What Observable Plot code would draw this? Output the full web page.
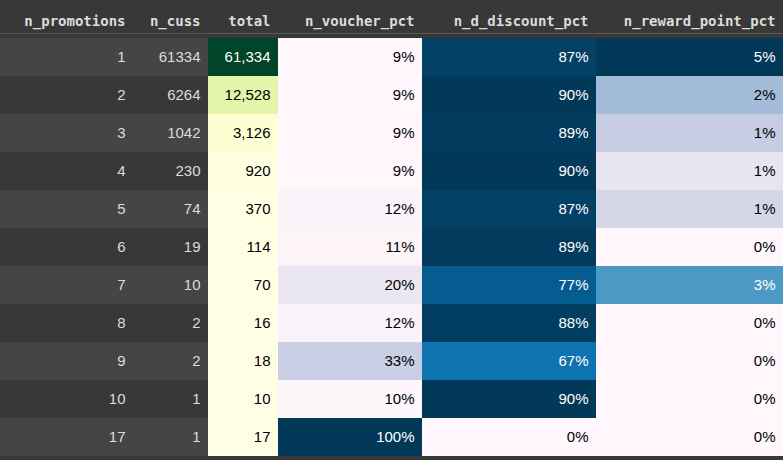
<!DOCTYPE html>
<html><head><meta charset="utf-8">
<script src="https://cdn.jsdelivr.net/npm/d3@7"></script>
<script src="https://cdn.jsdelivr.net/npm/@observablehq/plot@0.6"></script>
<style>
body{margin:0;background:#383838;overflow:hidden}
#chart{display:flex;width:783px}
</style></head><body><div id="chart"></div>
<script>
const nPromotions = [1, 2, 3, 4, 5, 6, 7, 8, 9, 10, 17];
const nCuss = [61334, 6264, 1042, 230, 74, 19, 10, 2, 2, 1, 1];
const total = [61334, 12528, 3126, 920, 370, 114, 70, 16, 18, 10, 17];
const voucherPct = [9, 9, 9, 9, 12, 11, 20, 12, 33, 10, 100];
const discountPct = [87, 90, 89, 90, 87, 89, 77, 88, 67, 90, 0];
const rewardPct = [5.0, 1.9, 1.4, 0.7, 1.1, 0, 2.9, 0, 0, 0, 0];

const columns = [
  {name: "n_promotions", values: nPromotions, w: 133, fmt: d => String(d)},
  {name: "n_cuss", values: nCuss, w: 75, fmt: d => String(d)},
  {name: "total", values: total, w: 70, fmt: d3.format(","), scheme: "YlGn"},
  {name: "n_voucher_pct", values: voucherPct, w: 144, fmt: d => Math.round(d) + "%", scheme: "PuBu"},
  {name: "n_d_discount_pct", values: discountPct, w: 174, fmt: d => Math.round(d) + "%", scheme: "PuBu"},
  {name: "n_reward_point_pct", values: rewardPct, w: 187, fmt: d => Math.round(d) + "%", scheme: "PuBu"}
];
const rows = d3.range(nPromotions.length);

for (const col of columns) {
  const [lo, hi] = d3.extent(col.values);
  const t = i => (col.values[i] - lo) / (hi - lo);
  const chart = Plot.plot({
    width: col.w,
    height: 460,
    margin: 0,
    marginTop: 33,
    x: {axis: null},
    y: {axis: null, domain: rows, padding: 0},
    color: col.scheme
      ? {type: "linear", scheme: col.scheme, domain: [lo, hi]}
      : {type: "identity"},
    style: {background: "#383838", fontFamily: "Liberation Sans, Arial, sans-serif", fontSize: "15px"},
    marks: [
      Plot.cell(rows, {
        y: i => i,
        fill: col.scheme ? i => col.values[i] : i => (i % 2 ? "#383838" : "#454545")
      }),
      Plot.text(rows, {
        y: i => i,
        text: i => col.fmt(col.values[i]),
        frameAnchor: "right",
        dx: -8,
        fill: col.scheme ? (i => (t(i) > 0.55 ? "#ffffff" : "#000000")) : "#dcdcdc"
      }),
      Plot.frame({anchor: "top", stroke: "#5a5a5a"}),
      Plot.text([col.name], {
        frameAnchor: "top-right",
        dx: -8,
        dy: -17,
        fill: "#dcdcdc",
        fontWeight: "bold",
        fontFamily: "DejaVu Sans Mono",
        fontSize: 14
      })
    ]
  });
  d3.select("#chart").append(() => chart);
}
</script></body></html>
